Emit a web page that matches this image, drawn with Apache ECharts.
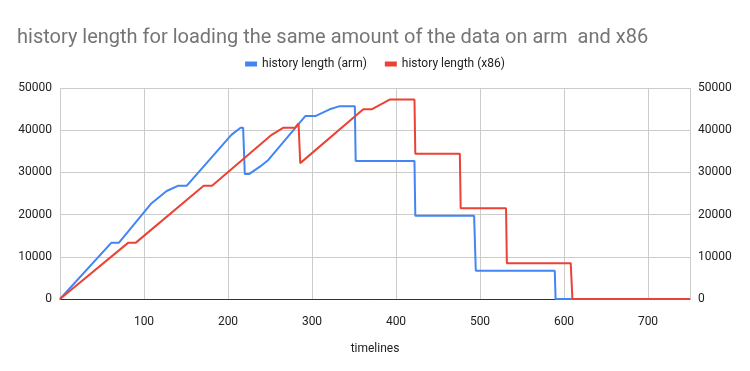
<!DOCTYPE html>
<html><head><meta charset="utf-8">
<script src="https://cdn.jsdelivr.net/npm/echarts@6/dist/echarts.min.js"></script>
<style>html,body{margin:0;padding:0;background:#fff}#c{width:750px;height:371px}</style>
</head><body><div id="c"></div>
<script>
const titleText = 'history length for loading the same amount of the data on arm  and x86';
const seriesNames = ['history length (arm)', 'history length (x86)'];
const xAxisName = 'timelines';
const armX = [0, 61, 70, 109, 127, 141, 151, 204, 215, 218, 220, 225, 238, 248, 292, 304, 321, 333, 351, 352, 422, 423, 493, 495, 589, 590, 750];
const armY = [0, 13300, 13300, 22700, 25600, 26850, 26850, 38900, 40600, 40600, 29600, 29600, 31350, 32950, 43350, 43350, 44950, 45700, 45700, 32700, 32700, 19700, 19700, 6700, 6700, 0, 0];
const x86X = [0, 81, 90, 171, 181, 252, 266, 280, 284, 286, 361, 371, 393, 422, 423, 476, 477, 531, 532, 608, 610, 750];
const x86Y = [0, 13300, 13300, 26850, 26850, 38900, 40600, 40600, 41600, 32200, 44950, 44950, 47300, 47300, 34400, 34400, 21500, 21500, 8500, 8500, 0, 0];

const pair = (xs, ys) => xs.map((x, i) => [x, ys[i]]);
const chart = echarts.init(document.getElementById('c'), null, {renderer: 'canvas'});
const font = 'Roboto, Arial, sans-serif';
const yAxisCommon = {
  type: 'value', min: 0, max: 50000, interval: 10000,
  axisLine: {show: false}, axisTick: {show: false},
  splitLine: {lineStyle: {color: '#cccccc', width: 1}},
  axisLabel: {color: '#222', fontFamily: font, fontSize: 12, margin: 8, formatter: v => String(v)}
};
chart.setOption({
  animation: false,
  title: {text: titleText, left: 12, top: 23, textStyle: {fontFamily: font, fontSize: 20, fontWeight: 'normal', color: '#757575'}},
  legend: {
    top: 53, left: 'center', itemWidth: 12, itemHeight: 5, itemGap: 18,
    icon: 'rect',
    textStyle: {fontFamily: font, fontSize: 12, color: '#222'},
    data: seriesNames
  },
  grid: {left: 60, right: 60, top: 88, bottom: 72},
  xAxis: {
    type: 'value', min: 0, max: 750, interval: 100,
    name: xAxisName, nameLocation: 'middle', nameGap: 44,
    nameTextStyle: {fontFamily: font, fontSize: 12, color: '#222'},
    axisLine: {show: true, onZero: false, lineStyle: {color: '#333', width: 1}},
    axisTick: {show: false},
    splitLine: {show: true, lineStyle: {color: '#cccccc', width: 1}},
    axisLabel: {color: '#222', fontFamily: font, fontSize: 12, margin: 17,
      formatter: v => (v === 0 || v === 750) ? '' : String(v)}
  },
  yAxis: [
    Object.assign({position: 'left'}, yAxisCommon),
    Object.assign({position: 'right'}, yAxisCommon, {splitLine: {show: false}})
  ],
  series: [
    {name: seriesNames[0], type: 'line', data: pair(armX, armY), showSymbol: false, symbol: 'none',
      lineStyle: {color: '#4285F4', width: 2}, itemStyle: {color: '#4285F4'}, z: 3},
    {name: seriesNames[1], type: 'line', data: pair(x86X, x86Y), showSymbol: false, symbol: 'none',
      lineStyle: {color: '#EA4335', width: 2}, itemStyle: {color: '#EA4335'}, z: 4},
    {type: 'line', yAxisIndex: 1, data: [], silent: true}
  ]
});
</script></body></html>
